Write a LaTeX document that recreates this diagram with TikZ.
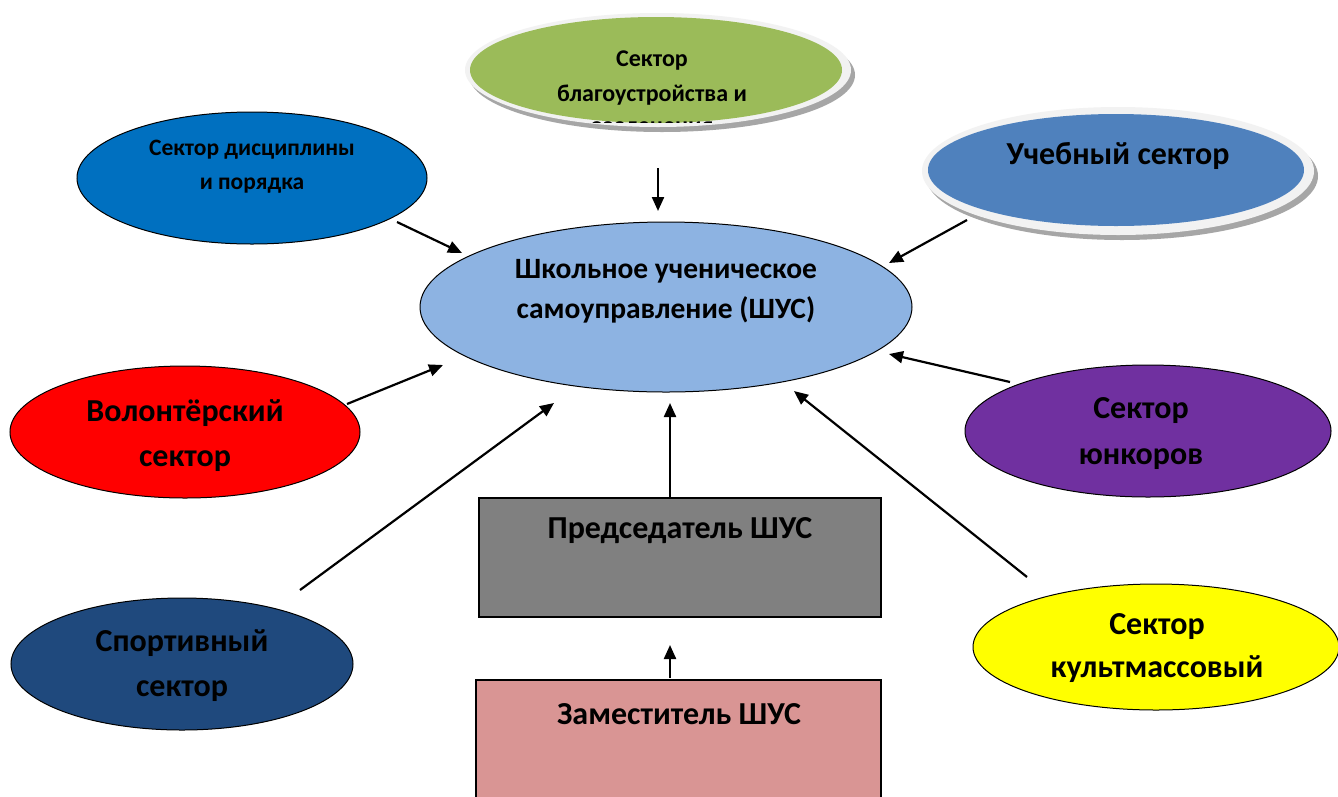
\documentclass[tikz,border=0pt]{standalone}
\usepackage{fontspec}
\setmainfont{Carlito}
\usetikzlibrary{shapes.geometric,arrows.meta}
\definecolor{cdisc}{HTML}{0070C0}
\definecolor{cgreen}{HTML}{9BBB59}
\definecolor{cstudy}{HTML}{4F81BD}
\definecolor{ccentral}{HTML}{8DB3E2}
\definecolor{cvol}{HTML}{FF0000}
\definecolor{csport}{HTML}{1F497D}
\definecolor{cjun}{HTML}{7030A0}
\definecolor{cculture}{HTML}{FFFF00}
\definecolor{cchair}{HTML}{808080}
\definecolor{cdeputy}{HTML}{D99594}
\definecolor{crim}{HTML}{F2F2F2}
\definecolor{cshadow}{HTML}{A6A6A6}
\tikzset{
  oval/.style={ellipse, draw=black, line width=1pt, inner sep=0pt},
  box/.style={rectangle, draw=black, line width=1.6pt, inner sep=0pt},
  lbl/.style={align=center, font=\bfseries, text=black, inner sep=0pt},
  conn/.style={line width=2.2pt, -{Triangle[length=14pt,width=12pt]}},
}
\begin{document}
\begin{tikzpicture}[x=1pt,y=-1pt]
\useasboundingbox (0,0) rectangle (1338,796);
\fill[white] (0,0) rectangle (1338,796);

% shadowed ellipses
\fill[cshadow] (662,75) ellipse (193 and 57);
\fill[crim] (658,70) ellipse (193 and 57);
\node[ellipse, fill=cgreen, minimum width=372pt, minimum height=106pt, inner sep=0pt] (green) at (656,70) {};
\fill[cshadow] (1122,176) ellipse (196 and 64);
\fill[crim] (1118,171) ellipse (196 and 64);
\node[ellipse, fill=cstudy, minimum width=376pt, minimum height=112pt, inner sep=0pt] (study) at (1116,170) {};

% ellipses
\node[oval, fill=cdisc, minimum width=350pt, minimum height=132pt] (disc) at (252,178) {};
\node[oval, fill=ccentral, minimum width=492pt, minimum height=170pt] (central) at (666,307) {};
\node[oval, fill=cvol, minimum width=350pt, minimum height=132pt] (vol) at (185,432) {};
\node[oval, fill=csport, minimum width=342pt, minimum height=132pt] (sport) at (182,664) {};
\node[oval, fill=cjun, minimum width=366pt, minimum height=132pt] (jun) at (1148,431) {};
\node[oval, fill=cculture, minimum width=366pt, minimum height=126pt] (culture) at (1156,647) {};

% boxes
\node[box, fill=cchair, minimum width=402pt, minimum height=119pt] (chair) at (680,557.5) {};
\node[box, fill=cdeputy, minimum width=405pt, minimum height=130pt] (deputy) at (678.5,745) {};

% labels
\node[lbl, font=\bfseries\fontsize{23.5}{34}\selectfont] (disc-t) at (252,167) {Сектор дисциплины\\и порядка};
\node[lbl, font=\bfseries\fontsize{24}{35}\selectfont] (green-t) at (652,78) {Сектор\\благоустройства и};
\begin{scope}
\clip (500,100) rectangle (800,122.5);
\node[lbl, font=\bfseries\fontsize{24}{35}\selectfont, anchor=base] (green-t3) at (652,133) {озеленения};
\end{scope}
\node[lbl, font=\bfseries\fontsize{32}{34}\selectfont] (study-t) at (1118,156) {Учебный сектор};
\node[lbl, font=\bfseries\fontsize{29.5}{40}\selectfont] (central-t) at (666,291) {Школьное ученическое\\самоуправление (ШУС)};
\node[lbl, font=\bfseries\fontsize{32}{45}\selectfont] (vol-t) at (185,436) {Волонтёрский\\сектор};
\node[lbl, font=\bfseries\fontsize{32}{45}\selectfont] (sport-t) at (182,666) {Спортивный\\сектор};
\node[lbl, font=\bfseries\fontsize{32}{46}\selectfont] (jun-t) at (1141,434) {Сектор\\юнкоров};
\node[lbl, font=\bfseries\fontsize{32}{43}\selectfont] (culture-t) at (1157,648) {Сектор\\культмассовый};
\node[lbl, font=\bfseries\fontsize{32}{36}\selectfont] (chair-t) at (680,531) {Председатель ШУС};
\node[lbl, font=\bfseries\fontsize{32}{36}\selectfont] (deputy-t) at (679,714) {Заместитель ШУС};

% connector end points
\coordinate (a1) at (397,222); \coordinate (b1) at (462,253);
\coordinate (a2) at (658,168); \coordinate (b2) at (658,211);
\coordinate (a3) at (967,220); \coordinate (b3) at (889,263);
\coordinate (a4) at (347,404); \coordinate (b4) at (443,365);
\coordinate (a5) at (300,590); \coordinate (b5) at (554,403);
\coordinate (a6) at (670,498); \coordinate (b6) at (670,403);
\coordinate (a7) at (670,678); \coordinate (b7) at (670,645);
\coordinate (a8) at (1027,577); \coordinate (b8) at (794,391);
\coordinate (a9) at (1010,382); \coordinate (b9) at (889,354);

\draw[conn] (a1) -- (b1);
\draw[conn] (a2) -- (b2);
\draw[conn] (a3) -- (b3);
\draw[conn] (a4) -- (b4);
\draw[conn] (a5) -- (b5);
\draw[conn] (a6) -- (b6);
\draw[conn] (a7) -- (b7);
\draw[conn] (a8) -- (b8);
\draw[conn] (a9) -- (b9);
\end{tikzpicture}
\end{document}
